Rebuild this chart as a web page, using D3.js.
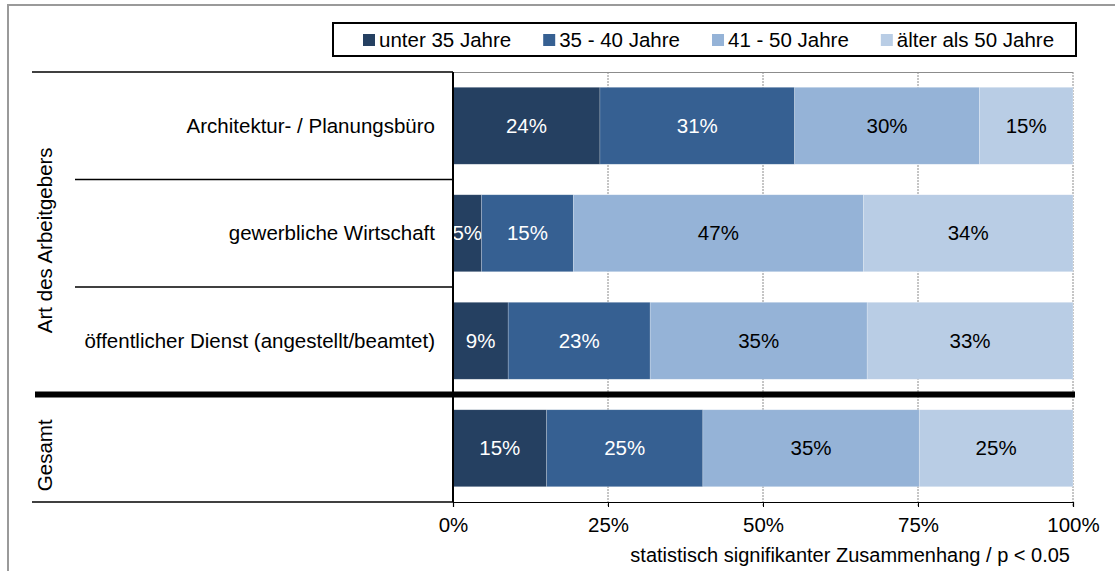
<!DOCTYPE html>
<html>
<head>
<meta charset="utf-8">
<script src="https://cdn.jsdelivr.net/npm/d3@7"></script>
<style>
body { margin: 0; background: #fff; }
svg { font-family: "Liberation Sans", Arial, sans-serif; }
</style>
</head>
<body>
<svg width="1115" height="571"></svg>
<script>
var categories = ["Architektur- / Planungsbüro", "gewerbliche Wirtschaft", "öffentlicher Dienst (angestellt/beamtet)", "Gesamt"];
var groups = [
    { name: "Art des Arbeitgebers", rows: 3 },
    { name: "Gesamt", rows: 1 }
];
var seriesNames = ["unter 35 Jahre", "35 - 40 Jahre", "41 - 50 Jahre", "älter als 50 Jahre"];
var unter35 = [23.7, 4.6, 8.9, 15.1];
var von35bis40 = [31.4, 14.8, 22.9, 25.2];
var von41bis50 = [29.8, 46.8, 35.0, 34.9];
var ueber50 = [15.1, 33.8, 33.2, 24.8];
var tickValues = [0, 25, 50, 75, 100];
var footnote = "statistisch signifikanter Zusammenhang / p < 0.05";

var colors = ["#254061", "#366092", "#95b3d7", "#b9cde5"];
var labelColors = ["#fff", "#fff", "#000", "#000"];
var fs = 20.5;

var svg = d3.select("svg"),
    margin = {top: 72, right: 42, bottom: 69, left: 453},
    width = +svg.attr("width") - margin.left - margin.right,
    height = +svg.attr("height") - margin.top - margin.bottom;

// outer frame of the chart object
svg.append("rect")
    .attr("x", 8).attr("y", 5)
    .attr("width", 1200).attr("height", 700)
    .attr("fill", "none")
    .attr("stroke", "#9a9a9a")
    .attr("stroke-width", 2);

var g = svg.append("g").attr("transform", "translate(" + margin.left + "," + margin.top + ")");

var x = d3.scaleLinear().domain([0, 100]).range([0, width]);
var y = d3.scaleBand().domain(categories).range([0, height]).paddingInner(0.284).paddingOuter(0.142);

var rows = categories.map(function(c, i) {
    return { cat: c, values: [unter35[i], von35bis40[i], von41bis50[i], ueber50[i]] };
});
var stack = d3.stack().keys([0, 1, 2, 3]).value(function(d, k) { return d.values[k]; });
var layers = stack(rows);

// grid lines
g.append("line")
    .attr("x1", 0).attr("x2", width)
    .attr("y1", 0.5).attr("y2", 0.5)
    .attr("stroke", "#8c8c8c");
g.selectAll(".grid")
    .data(tickValues.slice(1))
    .enter().append("line")
    .attr("class", "grid")
    .attr("x1", function(d) { return x(d); })
    .attr("x2", function(d) { return x(d); })
    .attr("y1", 0).attr("y2", height + 5)
    .attr("stroke", "#8c8c8c")
    .attr("stroke-dasharray", "2,1");

// bars
var layer = g.selectAll(".layer")
    .data(layers)
    .enter().append("g")
    .attr("class", "layer")
    .attr("fill", function(d, i) { return colors[i]; });

layer.selectAll("rect")
    .data(function(d) { return d; })
    .enter().append("rect")
    .attr("x", function(d) { return x(d[0]); })
    .attr("y", function(d) { return y(d.data.cat); })
    .attr("width", function(d) { return x(d[1]) - x(d[0]); })
    .attr("height", y.bandwidth())
    .attr("stroke", "rgba(255,255,255,0.35)")
    .attr("stroke-width", 0.6);

layer.selectAll("text")
    .data(function(d) { return d; })
    .enter().append("text")
    .attr("x", function(d) { return (x(d[0]) + x(d[1])) / 2; })
    .attr("y", function(d) { return y(d.data.cat) + y.bandwidth() / 2; })
    .attr("dy", "0.35em")
    .attr("text-anchor", "middle")
    .attr("font-size", fs)
    .attr("fill", function() { return labelColors[d3.select(this.parentNode).datum().key]; })
    .text(function(d) { return Math.round(d[1] - d[0]) + "%"; });

// x axis
g.append("g")
    .attr("transform", "translate(0," + height + ")")
    .call(d3.axisBottom(x).tickValues(tickValues).tickSize(5).tickFormat(function(d) { return d + "%"; }))
    .call(function(a) {
        a.select(".domain").attr("stroke", "#000").attr("stroke-width", 1.2);
        a.selectAll(".tick line").attr("stroke", "#000");
        a.selectAll(".tick text").attr("font-size", fs).attr("fill", "#000").attr("dy", "1.05em");
        a.attr("font-family", null).attr("font-size", null);
    });

// category axis with two levels
var step = y.step();
var rowEdges = d3.range(categories.length + 1).map(function(i) { return i * step; });
g.selectAll(".sep")
    .data(rowEdges)
    .enter().append("line")
    .attr("class", "sep")
    .attr("x1", function(d, i) {
        return (i == 0 || i == categories.length) ? -421 : (i == 3 ? -418 : -378);
    })
    .attr("x2", function(d, i) { return i == 3 ? width + 2 : 0; })
    .attr("y1", function(d) { return d; })
    .attr("y2", function(d) { return d; })
    .attr("stroke", "#000")
    .attr("stroke-width", function(d, i) { return i == 3 ? 6 : 1.5; });

g.append("line")
    .attr("x1", 0).attr("x2", 0)
    .attr("y1", 0).attr("y2", height)
    .attr("stroke", "#000")
    .attr("stroke-width", 2);

g.selectAll(".cat")
    .data(categories.slice(0, 3))
    .enter().append("text")
    .attr("class", "cat")
    .attr("x", -18)
    .attr("y", function(d) { return y(d) + y.bandwidth() / 2; })
    .attr("dy", "0.35em")
    .attr("text-anchor", "end")
    .attr("font-size", fs)
    .text(function(d) { return d; });

var start = 0;
groups.forEach(function(grp) {
    var mid = (start + grp.rows / 2) * step + 7;
    g.append("text")
        .attr("transform", "translate(-408," + mid + ") rotate(-90)")
        .attr("text-anchor", "middle")
        .attr("dy", "0.35em")
        .attr("font-size", fs)
        .text(grp.name);
    start += grp.rows;
});

// legend
var legend = svg.append("g");
legend.append("rect")
    .attr("x", 333).attr("y", 23)
    .attr("width", 743).attr("height", 33)
    .attr("fill", "#fff")
    .attr("stroke", "#000")
    .attr("stroke-width", 2);
var lx = 363;
seriesNames.forEach(function(name, i) {
    legend.append("rect")
        .attr("x", lx).attr("y", 34)
        .attr("width", 12).attr("height", 12)
        .attr("fill", colors[i]);
    var t = legend.append("text")
        .attr("x", lx + 16).attr("y", 40)
        .attr("dy", "0.35em")
        .attr("font-size", fs)
        .text(name);
    lx += 16 + t.node().getComputedTextLength() + 32;
});

svg.append("text")
    .attr("x", 1070).attr("y", 562)
    .attr("text-anchor", "end")
    .attr("font-size", 20)
    .text(footnote);
</script>
</body>
</html>
